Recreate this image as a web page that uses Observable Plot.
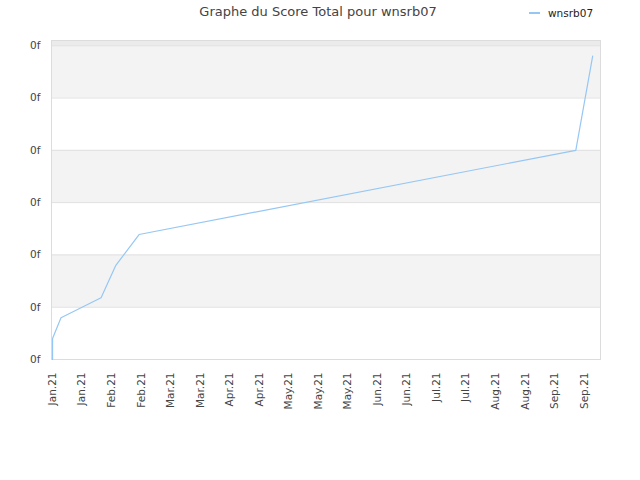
<!DOCTYPE html>
<html><head><meta charset="utf-8">
<script src="https://cdn.jsdelivr.net/npm/d3@7"></script>
<script src="https://cdn.jsdelivr.net/npm/@observablehq/plot@0.6"></script>
<style>
body{margin:0;background:#fff;font-family:"DejaVu Sans",sans-serif;}
#wrap{position:relative;width:640px;height:480px;}
#head{position:relative;height:30px;}
#title{position:absolute;left:0;width:636px;top:4px;text-align:center;font-size:13px;line-height:16px;color:#444;}
#legend{position:absolute;left:529px;top:5px;font-size:10.5px;line-height:16px;color:#222;display:flex;align-items:center;}
#legend span.sw{display:inline-block;width:11px;height:2px;background:#96c7f4;margin-right:8px;}
</style></head><body>
<div id="wrap">
  <div id="head"><div id="title">Graphe du Score Total pour wnsrb07</div><div id="legend"><span class="sw"></span><span id="lgname"></span></div></div>
  <div id="chart"></div>
</div>
<script>
const seriesName = "wnsrb07";
const dates = ["2021-01-10","2021-01-10","2021-01-14","2021-02-02","2021-02-09","2021-02-20","2021-09-15","2021-09-23"];
const scores = [0, 0.4, 0.8, 1.18, 1.8, 2.39, 4.0, 5.8];
const tickDates = ["2021-01-10","2021-01-24","2021-02-07","2021-02-21","2021-03-07","2021-03-21","2021-04-04","2021-04-18","2021-05-02","2021-05-16","2021-05-30","2021-06-13","2021-06-27","2021-07-11","2021-07-25","2021-08-08","2021-08-22","2021-09-05","2021-09-19"];
const tickLabels = ["Jan.21","Jan.21","Feb.21","Feb.21","Mar.21","Mar.21","Apr.21","Apr.21","May.21","May.21","May.21","Jun.21","Jun.21","Jul.21","Jul.21","Aug.21","Aug.21","Sep.21","Sep.21"];
const yTicks = [0, 1, 2, 3, 4, 5, 6];
const yTickLabels = ["0f","0f","0f","0f","0f","0f","0f"];
const bandRanges = [[1, 2], [3, 4], [5, 6]];
const topStrip = [[6, 6.1]];
const xDomain = [new Date("2021-01-09T12:00:00Z"), new Date("2021-09-26T17:00:00Z")];
const yDomain = [0, 6.1];

document.getElementById("lgname").textContent = seriesName;

const data = dates.map((d, i) => ({date: new Date(d + "T00:00:00Z"), score: scores[i]}));
const xTicks = tickDates.map(d => new Date(d + "T00:00:00Z"));
const xLabelMap = new Map(xTicks.map((d, i) => [+d, tickLabels[i]]));

const plot = Plot.plot({
  width: 640, height: 450,
  marginTop: 10, marginBottom: 121, marginLeft: 51, marginRight: 40,
  style: {fontFamily: "'DejaVu Sans', sans-serif", fontSize: "10.5px", color: "#444", background: "#fff"},
  x: {type: "utc", domain: xDomain},
  y: {domain: yDomain},
  marks: [
    Plot.rect(bandRanges, {x1: () => xDomain[0], x2: () => xDomain[1], y1: d => d[0], y2: d => d[1], fill: "#f3f3f3"}),
    Plot.rect(topStrip, {x1: () => xDomain[0], x2: () => xDomain[1], y1: d => d[0], y2: d => d[1], fill: "#ebebeb"}),
    Plot.ruleY(yTicks, {stroke: "#e0e0e0"}),
    Plot.frame({stroke: "#dcdcdc"}),
    Plot.line(data, {x: "date", y: "score", stroke: "#96c7f4", strokeWidth: 1.2}),
    Plot.axisY(yTicks, {tickFormat: d => yTickLabels[yTicks.indexOf(d)], tickSize: 0, tickPadding: 11, label: null}),
    Plot.axisX(xTicks, {tickFormat: d => xLabelMap.get(+d), tickRotate: -90, tickSize: 0, tickPadding: 13, label: null})
  ]
});
document.getElementById("chart").appendChild(plot);
</script>
</body></html>
